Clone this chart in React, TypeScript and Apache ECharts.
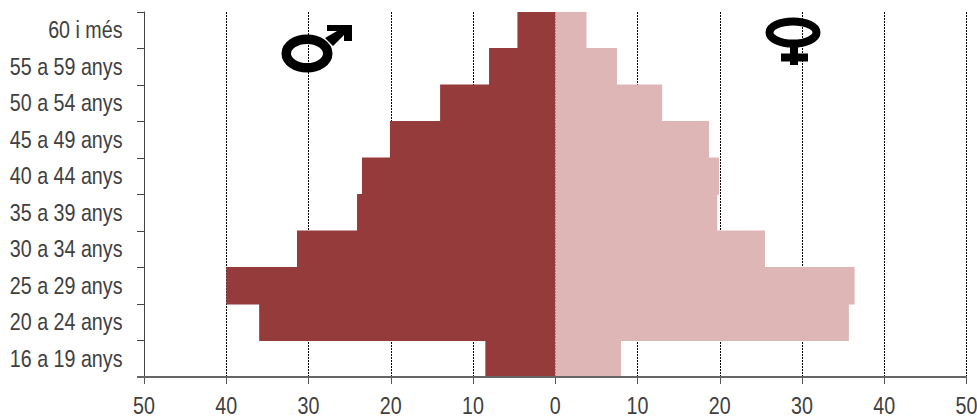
import React, { useEffect, useRef } from "react";
import * as echarts from "echarts";

const categories = ["16 a 19 anys", "20 a 24 anys", "25 a 29 anys", "30 a 34 anys", "35 a 39 anys", "40 a 44 anys", "45 a 49 anys", "50 a 54 anys", "55 a 59 anys", "60 i més"];
const men = [-8.5, -36, -40, -31.4, -24.1, -23.5, -20.1, -14, -8.05, -4.6];
const women = [8, 35.7, 36.4, 25.5, 19.7, 19.9, 18.7, 13, 7.5, 3.8];
const xTicks = [-50, -40, -30, -20, -10, 0, 10, 20, 30, 40, 50];

const FONT = "'Liberation Sans', Arial, sans-serif";
const TEXT = "#404040";
const FONT_SIZE = 24;
const NARROW = 0.82;

export default function App() {
  const ref = useRef<HTMLDivElement>(null);
  useEffect(() => {
    const chart = echarts.init(ref.current!, null, { renderer: "svg" });
    chart.setOption({
      animation: false,
      backgroundColor: "#fff",
      grid: { left: 144, right: 10.5, top: 12, bottom: 41, outerBoundsMode: "none" },
      xAxis: {
        type: "value", min: -50, max: 50, interval: 10,
        axisLine: { show: false },
        axisTick: { show: true, length: 7, lineStyle: { color: "#555", width: 1 } },
        axisLabel: { show: false },
        splitLine: { show: true, lineStyle: { color: "#000", width: 1, type: [2, 1] } },
      },
      yAxis: {
        type: "category", data: categories,
        axisLine: { show: true, onZero: false, lineStyle: { color: "#444", width: 1 } },
        axisTick: { show: true, length: 7, lineStyle: { color: "#444", width: 1 } },
        axisLabel: { show: false },
      },
      series: [
        { type: "bar", name: "Homes", stack: "p", data: men, barWidth: "103%", itemStyle: { color: "#953b3b" } },
        { type: "bar", name: "Dones", stack: "p", data: women, barWidth: "103%", itemStyle: { color: "#deb6b6" } },
      ],
    });
    const labelStyle = { fill: TEXT, fontFamily: FONT, fontSize: FONT_SIZE, verticalAlign: "middle" };
    const yLabels = categories.map((c, i) => ({
      type: "text", z: 60, x: 122.5,
      y: chart.convertToPixel({ yAxisIndex: 0 }, i) as number,
      scaleX: NARROW,
      style: { ...labelStyle, text: c, align: "right" },
    }));
    const xLabels = xTicks.map((v) => ({
      type: "text", z: 60,
      x: chart.convertToPixel({ xAxisIndex: 0 }, v) as number,
      y: 405.5,
      scaleX: NARROW,
      style: { ...labelStyle, text: String(Math.abs(v)), align: "center" },
    }));
    chart.setOption({
      graphic: [
        ...yLabels,
        ...xLabels,
        { type: "line", z: 50, shape: { x1: 137, y1: 377, x2: 967, y2: 377 }, style: { stroke: "#666", lineWidth: 2 } },
        { type: "ellipse", z: 50, shape: { cx: 307, cy: 53.5, rx: 20.75, ry: 14.25 }, style: { fill: "none", stroke: "#000", lineWidth: 9.5 } },
        { type: "polygon", z: 50, shape: { points: [[327, 25], [352, 25], [352, 41], [344, 41], [344, 35], [333, 46], [325, 38], [337, 31], [327, 31]] }, style: { fill: "#000" } },
        { type: "ellipse", z: 50, shape: { cx: 793, cy: 32.5, rx: 23.5, ry: 11 }, style: { fill: "none", stroke: "#000", lineWidth: 8 } },
        { type: "line", z: 50, shape: { x1: 794, y1: 46, x2: 794, y2: 65 }, style: { stroke: "#000", lineWidth: 8 } },
        { type: "line", z: 50, shape: { x1: 781, y1: 57.5, x2: 808, y2: 57.5 }, style: { stroke: "#000", lineWidth: 8 } },
      ],
    });
    return () => chart.dispose();
  }, []);
  return <div ref={ref} style={{ position: "fixed", left: 0, top: 0, width: 977, height: 418 }} />;
}
